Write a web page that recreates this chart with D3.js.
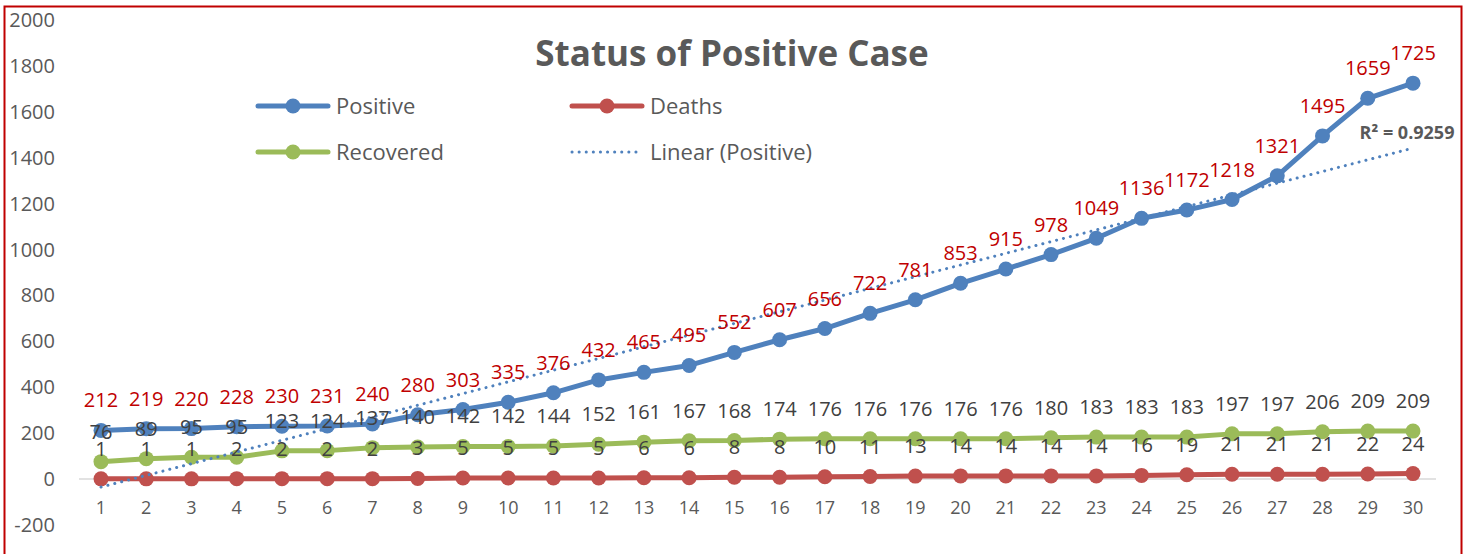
<!doctype html>
<html lang="en">
<head>
  <meta charset="utf-8">
  <title>Status of Positive Case</title>
  <script src="https://d3js.org/d3.v7.min.js"></script>
  <style>
    body { margin: 0; background: #fff; }
    svg text { font-family: "Open Sans", Lato, sans-serif; }
  </style>
</head>
<body>
  <div class="canva"></div>
  <script>
    // data
    const days = d3.range(1, 31);
    const positive = [212, 219, 220, 228, 230, 231, 240, 280, 303, 335, 376, 432, 465, 495, 552,
      607, 656, 722, 781, 853, 915, 978, 1049, 1136, 1172, 1218, 1321, 1495, 1659, 1725];
    const recovered = [76, 89, 95, 95, 123, 124, 137, 140, 142, 142, 144, 152, 161, 167, 168,
      174, 176, 176, 176, 176, 176, 180, 183, 183, 183, 197, 197, 206, 209, 209];
    const deaths = [1, 1, 1, 2, 2, 2, 2, 3, 5, 5, 5, 5, 6, 6, 8,
      8, 10, 11, 13, 14, 14, 14, 14, 16, 19, 21, 21, 21, 22, 24];
    const yTicks = [-200, 0, 200, 400, 600, 800, 1000, 1200, 1400, 1600, 1800, 2000];
    const r2Text = "R² = 0.9259";

    const W = 1474, H = 554;
    const svg = d3.select(".canva").append("svg")
      .attr("width", W)
      .attr("height", H);

    // red outline
    svg.append("rect")
      .attr("x", 4.5).attr("y", 6.5)
      .attr("width", 1457).attr("height", 560)
      .attr("fill", "none")
      .attr("stroke", "#C00000")
      .attr("stroke-width", 2);

    const x = d3.scalePoint().domain(days).range([101, 1413]);
    const y = d3.scaleLinear().domain([-200, 2000]).range([525, 20]);

    // y labels
    svg.selectAll(".ylab").data(yTicks).enter().append("text")
      .attr("x", 55)
      .attr("y", d => y(d))
      .attr("dy", "0.35em")
      .attr("text-anchor", "end")
      .attr("font-size", 20)
      .attr("fill", "#595959")
      .text(d => d);

    // zero line
    svg.append("line")
      .attr("x1", 79).attr("x2", 1436)
      .attr("y1", y(0)).attr("y2", y(0))
      .attr("stroke", "#D9D9D9")
      .attr("stroke-width", 1.5);

    // x labels
    svg.selectAll(".xlab").data(days).enter().append("text")
      .attr("x", d => x(d))
      .attr("y", 508)
      .attr("dy", "0.35em")
      .attr("text-anchor", "middle")
      .attr("font-size", 18)
      .attr("fill", "#595959")
      .text(d => d);

    // title
    svg.append("text")
      .attr("x", 732).attr("y", 54)
      .attr("dy", "0.35em")
      .attr("text-anchor", "middle")
      .attr("font-size", 35)
      .attr("font-weight", "bold")
      .attr("fill", "#595959")
      .text("Status of Positive Case");

    // linear trend for positive
    const n = days.length;
    const mx = d3.mean(days), my = d3.mean(positive);
    let sxy = 0, sxx = 0;
    for (let i = 0; i < n; i++) {
      sxy += (days[i] - mx) * (positive[i] - my);
      sxx += (days[i] - mx) * (days[i] - mx);
    }
    const slope = sxy / sxx, icpt = my - slope * mx;

    const series = [
      { name: "Deaths", vals: deaths, color: "#C0504D", lab: "#404040" },
      { name: "Recovered", vals: recovered, color: "#9BBB59", lab: "#404040" },
      { name: "Positive", vals: positive, color: "#4F81BD", lab: "#C00000" }
    ];

    const line = d3.line().x((d, i) => x(days[i])).y(d => y(d));

    series.forEach(s => {
      svg.append("path")
        .attr("d", line(s.vals))
        .attr("fill", "none")
        .attr("stroke", s.color)
        .attr("stroke-width", 5)
        .attr("stroke-linejoin", "round");
      svg.selectAll(null).data(s.vals).enter().append("circle")
        .attr("cx", (d, i) => x(days[i]))
        .attr("cy", d => y(d))
        .attr("r", 7.5)
        .attr("fill", s.color);
    });

    svg.append("line")
      .attr("x1", x(1)).attr("y1", y(icpt + slope * 1))
      .attr("x2", x(30)).attr("y2", y(icpt + slope * 30))
      .attr("stroke", "#4F81BD")
      .attr("stroke-width", 3)
      .attr("stroke-dasharray", "0.1 7")
      .attr("stroke-linecap", "round");

    // data labels
    series.forEach(s => {
      svg.selectAll(null).data(s.vals).enter().append("text")
        .attr("x", (d, i) => x(days[i]))
        .attr("y", d => y(d) - 30)
        .attr("dy", "0.35em")
        .attr("text-anchor", "middle")
        .attr("font-size", 20)
        .attr("fill", s.lab)
        .text(d => d);
    });

    svg.append("text")
      .attr("x", 1407).attr("y", 133)
      .attr("dy", "0.35em")
      .attr("text-anchor", "middle")
      .attr("font-size", 18)
      .attr("font-weight", "bold")
      .attr("fill", "#595959")
      .text(r2Text);

    // legend
    const legend = [
      { name: "Positive", color: "#4F81BD", lx: 258, ly: 106, dotted: false },
      { name: "Deaths", color: "#C0504D", lx: 572, ly: 106, dotted: false },
      { name: "Recovered", color: "#9BBB59", lx: 258, ly: 152, dotted: false },
      { name: "Linear (Positive)", color: "#4F81BD", lx: 572, ly: 152, dotted: true }
    ];
    legend.forEach(l => {
      const ln = svg.append("line")
        .attr("x1", l.lx).attr("x2", l.lx + 70)
        .attr("y1", l.ly).attr("y2", l.ly)
        .attr("stroke", l.color)
        .attr("stroke-linecap", "round");
      if (l.dotted) {
        ln.attr("stroke-width", 3).attr("stroke-dasharray", "0.1 7");
      } else {
        ln.attr("stroke-width", 5);
        svg.append("circle")
          .attr("cx", l.lx + 35).attr("cy", l.ly)
          .attr("r", 7.5).attr("fill", l.color);
      }
      svg.append("text")
        .attr("x", l.lx + 78).attr("y", l.ly)
        .attr("dy", "0.35em")
        .attr("font-size", 22)
        .attr("fill", "#595959")
        .text(l.name);
    });
  </script>
</body>
</html>
